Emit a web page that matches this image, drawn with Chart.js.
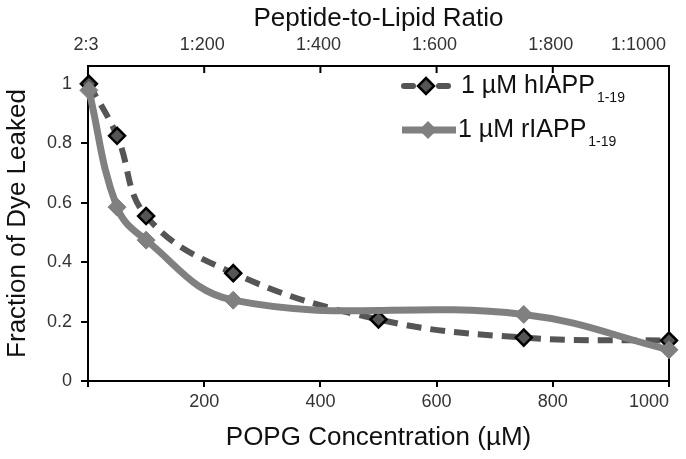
<!DOCTYPE html>
<html>
<head>
<meta charset="utf-8">
<script src="https://cdn.jsdelivr.net/npm/chart.js@4/dist/chart.umd.min.js"></script>
<style>
  html, body { margin: 0; padding: 0; background: #fff; }
  #wrap { width: 686px; height: 459px; }
</style>
</head>
<body>
<div id="wrap"><canvas id="chart"></canvas></div>
<script>
// POPG concentration (uM) and fraction of dye leaked
const hX = [1.5, 50, 100, 250, 500, 750, 1000];
const hY = [1.0, 0.825, 0.555, 0.363, 0.207, 0.146, 0.136];
const rX = [1.5, 50, 100, 250, 750, 1000];
const rY = [0.978, 0.585, 0.474, 0.272, 0.224, 0.105];
// top axis: peptide-to-lipid ratio at 0, 200, ... 1000 uM
const ratioLabels = ["2:3", "1:200", "1:400", "1:600", "1:800", "1:1000"];

const FONT = "'Liberation Sans', Arial, sans-serif";

const toPts = (xs, ys) => xs.map((x, i) => ({ x: x, y: ys[i] }));

function diamond(ctx, cx, cy, r) {
  ctx.beginPath();
  ctx.moveTo(cx, cy - r);
  ctx.lineTo(cx + r, cy);
  ctx.lineTo(cx, cy + r);
  ctx.lineTo(cx - r, cy);
  ctx.closePath();
}

// top axis ticks (inward) and labels, legend with subscripts
const extras = {
  id: "extras",
  afterDraw(chart) {
    const ctx = chart.ctx;
    const top = chart.scales.x2;
    ctx.save();
    ctx.strokeStyle = "#000";
    ctx.lineWidth = 2;
    ctx.fillStyle = "#333";
    ctx.font = "18px " + FONT;
    ctx.textBaseline = "middle";
    const n = top.ticks.length;
    top.ticks.forEach((t, i) => {
      const px = top.getPixelForValue(t.value);
      ctx.beginPath();
      ctx.moveTo(px, top.bottom);
      ctx.lineTo(px, top.bottom + 7);
      ctx.stroke();
      if (i === n - 1) {
        ctx.textAlign = "right";
        ctx.fillText(ratioLabels[i], px - 3, 45);
      } else {
        ctx.textAlign = "center";
        ctx.fillText(ratioLabels[i], px - 2, 45);
      }
    });

    // legend row 1 - hIAPP
    let y = 86;
    ctx.strokeStyle = "#555";
    ctx.lineWidth = 6;
    ctx.lineCap = "round";
    ctx.beginPath(); ctx.moveTo(404, y); ctx.lineTo(413, y); ctx.stroke();
    ctx.beginPath(); ctx.moveTo(439, y); ctx.lineTo(448, y); ctx.stroke();
    ctx.lineCap = "butt";
    diamond(ctx, 426, y, 8);
    ctx.fillStyle = "#555";
    ctx.fill();
    ctx.lineWidth = 2.5;
    ctx.strokeStyle = "#000";
    ctx.stroke();

    ctx.fillStyle = "#111";
    ctx.textBaseline = "middle";
    ctx.textAlign = "left";
    ctx.font = "25px " + FONT;
    let txt = "1 \u00b5M hIAPP";
    ctx.fillText(txt, 461, y);
    let w = ctx.measureText(txt).width;
    ctx.font = "14px " + FONT;
    ctx.fillText("1-19", 461 + w + 2, y + 12);

    // legend row 2 - rIAPP
    y = 130;
    ctx.strokeStyle = "#808080";
    ctx.lineWidth = 7;
    ctx.beginPath(); ctx.moveTo(402, y); ctx.lineTo(456, y); ctx.stroke();
    diamond(ctx, 428, y, 9);
    ctx.fillStyle = "#808080";
    ctx.fill();

    ctx.fillStyle = "#111";
    ctx.font = "25px " + FONT;
    txt = "1 \u00b5M rIAPP";
    ctx.fillText(txt, 458, y);
    w = ctx.measureText(txt).width;
    ctx.font = "14px " + FONT;
    ctx.fillText("1-19", 458 + w + 2, y + 12);
    ctx.restore();
  }
};

new Chart(document.getElementById("chart"), {
  type: "line",
  plugins: [extras],
  data: {
    datasets: [
      {
        label: "1 \u00b5M hIAPP1-19",
        data: toPts(hX, hY),
        order: 2,
        borderColor: "#555555",
        borderWidth: 6,
        borderDash: [15, 9],
        tension: 0.4,
        pointStyle: "rectRot",
        pointRadius: 8,
        pointBackgroundColor: "#555555",
        pointBorderColor: "#000",
        pointBorderWidth: 2.5,
        clip: false,
      },
      {
        label: "1 \u00b5M rIAPP1-19",
        data: toPts(rX, rY),
        order: 1,
        borderColor: "#808080",
        borderWidth: 7,
        tension: 0.4,
        pointStyle: "rectRot",
        pointRadius: 9,
        pointBackgroundColor: "#808080",
        pointBorderColor: "#808080",
        pointBorderWidth: 1,
        clip: false,
      },
    ],
  },
  options: {
    responsive: true,
    maintainAspectRatio: false,
    animation: false,
    layout: { padding: 0 },
    plugins: {
      legend: { display: false },
      tooltip: { enabled: false },
    },
    scales: {
      x: {
        type: "linear",
        position: "bottom",
        min: 0,
        max: 1000,
        afterFit: (s) => { s.height = 78; },
        border: { color: "#000", width: 2 },
        grid: { drawOnChartArea: false, color: "#000", lineWidth: 2, tickLength: 6 },
        ticks: {
          stepSize: 200,
          align: "inner",
          padding: 4,
          color: "#333",
          font: { family: FONT, size: 18 },
          callback: (v) => (v === 0 ? "" : v),
        },
        title: {
          display: true,
          text: "POPG Concentration (\u00b5M)",
          color: "#111",
          font: { family: FONT, size: 26, lineHeight: 1.2 },
          padding: { top: 0, bottom: 6 },
        },
      },
      x2: {
        type: "linear",
        position: "top",
        min: 0,
        max: 1000,
        afterFit: (s) => { s.height = 66; },
        border: { color: "#000", width: 2 },
        grid: { display: false, drawTicks: false },
        ticks: { stepSize: 200, display: false },
        title: {
          display: true,
          text: "Peptide-to-Lipid Ratio",
          color: "#111",
          font: { family: FONT, size: 26, lineHeight: 1.2 },
          padding: { top: 3, bottom: 0 },
        },
      },
      y: {
        type: "linear",
        position: "left",
        min: 0,
        max: 1.06,
        afterFit: (s) => { s.width = 88; },
        border: { color: "#000", width: 2 },
        grid: { drawOnChartArea: false, color: "#000", lineWidth: 2, tickLength: 7 },
        ticks: {
          stepSize: 0.2,
          includeBounds: false,
          padding: 9,
          color: "#333",
          font: { family: FONT, size: 18 },
          callback: (v) => String(Math.round(v * 10) / 10),
        },
        title: {
          display: true,
          text: "Fraction of Dye Leaked",
          color: "#111",
          font: { family: FONT, size: 26, lineHeight: 1.2 },
          padding: { top: 2, bottom: 0 },
        },
      },
      y2: {
        type: "linear",
        position: "right",
        min: 0,
        max: 1.06,
        afterFit: (s) => { s.width = 17; },
        border: { color: "#000", width: 2 },
        grid: { display: false, drawTicks: false },
        ticks: { display: false },
      },
    },
  },
});
</script>
</body>
</html>
